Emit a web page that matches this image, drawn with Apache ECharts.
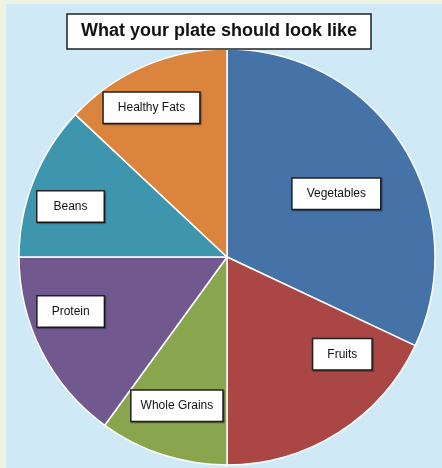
<!DOCTYPE html>
<html>
<head>
<meta charset="utf-8">
<script src="https://cdn.jsdelivr.net/npm/echarts@6/dist/echarts.min.js"></script>
<style>
  html, body { margin: 0; padding: 0; }
  #chart { width: 442px; height: 468px; }
</style>
</head>
<body>
<div id="chart"></div>
<script>
// plate shares, clockwise from 12 o'clock
const foods = ["Vegetables", "Fruits", "Whole Grains", "Protein", "Beans", "Healthy Fats"];
const shares = [32, 18, 10, 15, 12, 13];
const colors = ["#4572a7", "#aa4643", "#89a54e", "#71588f", "#3d96ae", "#db843d"];

// where each label box sits, relative to the default inside spot, and its side padding
const labelShift = [[19, -6], [58, 7], [-17, 47], [-61, 6], [-57, -11], [-33, -51]];
const labelPadX = [14, 14, 9, 14, 16, 14];

const chart = echarts.init(document.getElementById("chart"));

chart.setOption({
  animation: false,
  backgroundColor: "#eef3e1",
  graphic: [
    {
      type: "rect",
      z: -1,
      shape: { x: 6, y: 4, width: 436, height: 464 },
      style: { fill: "#cfe9f7" }
    }
  ],
  title: {
    text: "What your plate should look like",
    left: 67,
    top: 14,
    padding: [7, 14],
    backgroundColor: "#fff",
    borderColor: "#222",
    borderWidth: 1.5,
    textStyle: {
      fontFamily: "'Liberation Sans', Arial, sans-serif",
      fontSize: 18,
      fontWeight: "bold",
      color: "#111",
      lineHeight: 21
    }
  },
  series: [
    {
      type: "pie",
      center: [227, 257],
      radius: 208,
      startAngle: 90,
      labelLine: { show: false },
      itemStyle: { borderColor: "#fff", borderWidth: 1.5 },
      emphasis: { disabled: true },
      label: {
        show: true,
        position: "inside",
        formatter: "{b}",
        color: "#111",
        fontFamily: "'Liberation Sans', Arial, sans-serif",
        fontSize: 12,
        lineHeight: 14,
        backgroundColor: "#fff",
        borderColor: "#222",
        borderWidth: 1.5,
        shadowColor: "rgba(0,0,0,0.35)",
        shadowBlur: 1,
        shadowOffsetX: 1,
        shadowOffsetY: 1
      },
      data: foods.map((name, i) => ({
        name: name,
        value: shares[i],
        itemStyle: { color: colors[i] },
        label: { offset: labelShift[i], padding: [8, labelPadX[i]] }
      }))
    }
  ]
});
</script>
</body>
</html>
